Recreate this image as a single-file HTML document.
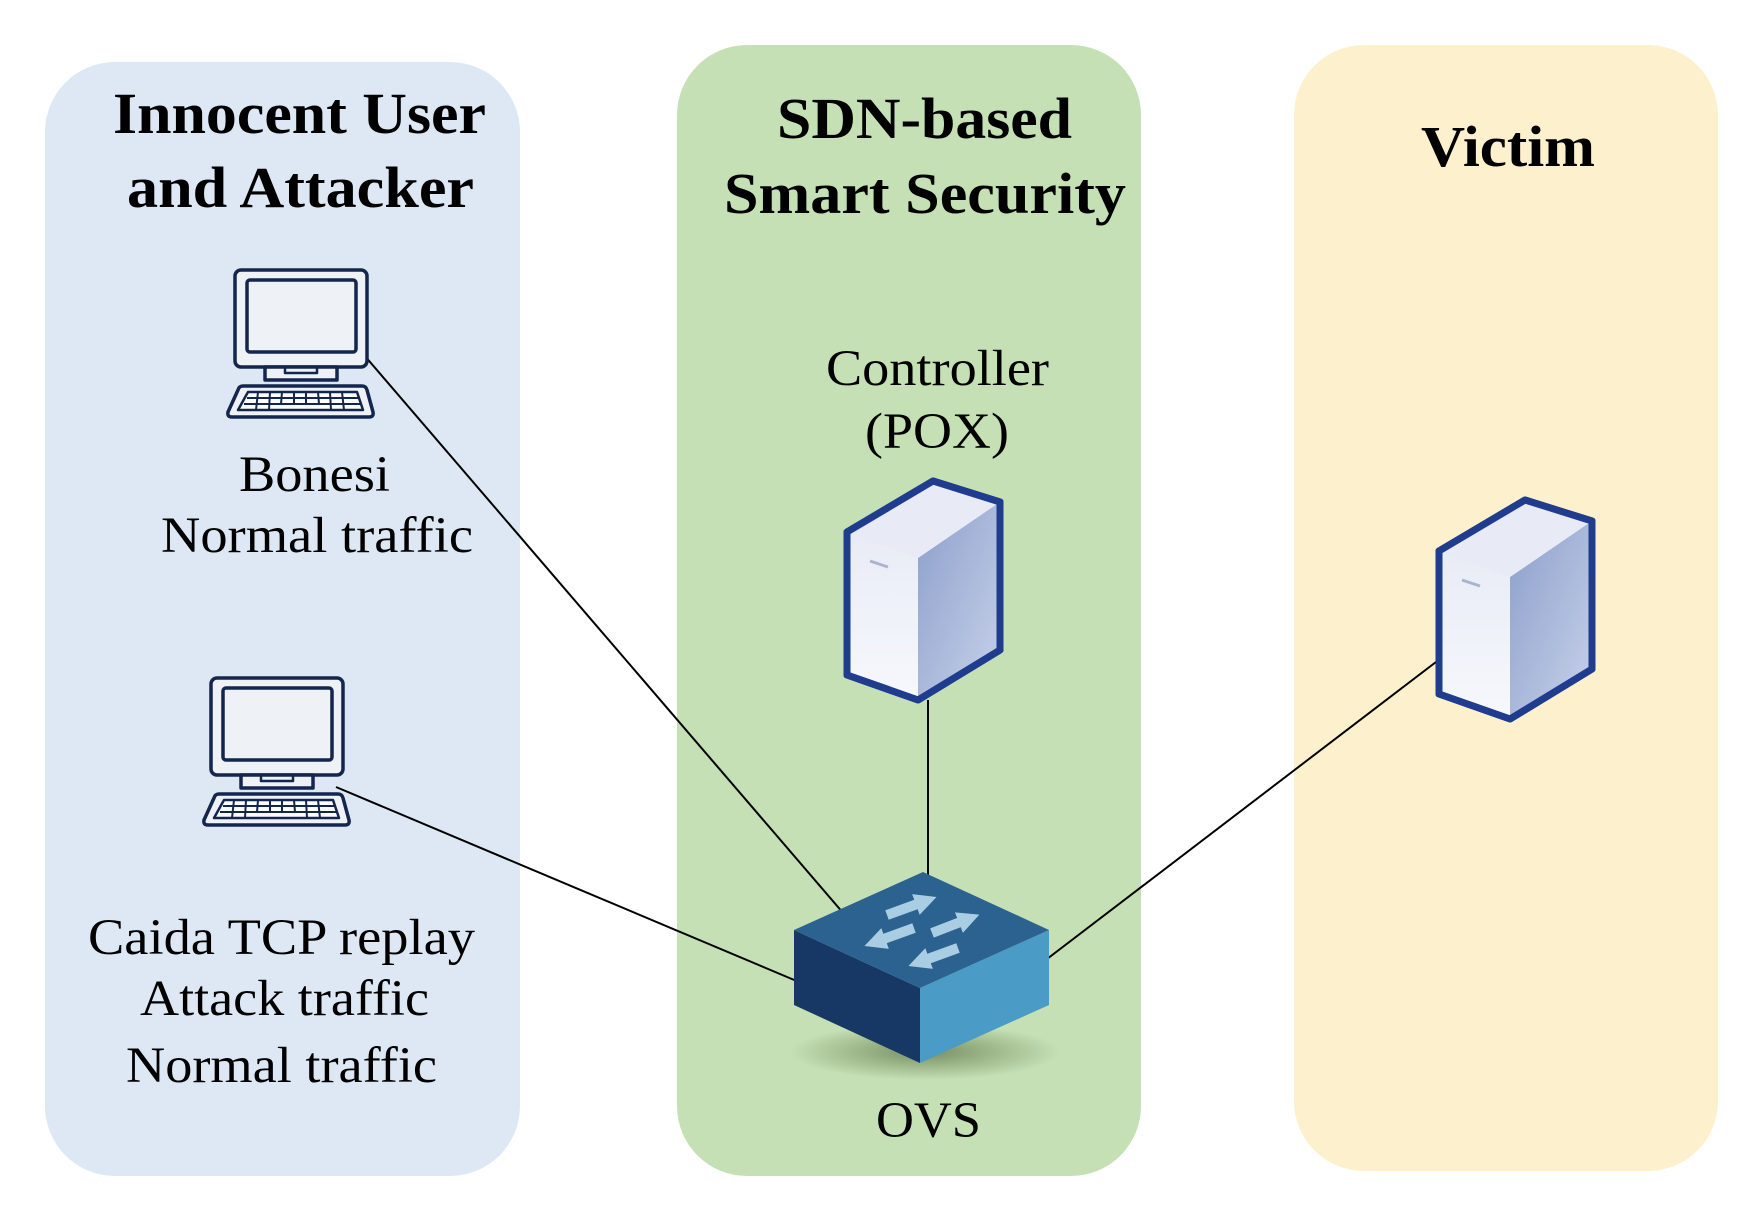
<!DOCTYPE html>
<html><head><meta charset="utf-8"><style>
html,body{margin:0;padding:0;background:#fff;}
svg{display:block;}
text{font-family:"Liberation Serif",serif;fill:#000;}
</style></head><body>
<svg width="1756" height="1212" viewBox="0 0 1756 1212" xmlns="http://www.w3.org/2000/svg">
<defs>
<linearGradient id="sf" x1="0" y1="0" x2="0" y2="1"><stop offset="0" stop-color="#e4e8f4"/><stop offset="1" stop-color="#f6f8fc"/></linearGradient>
<linearGradient id="sr" x1="0" y1="0" x2="1" y2="1"><stop offset="0" stop-color="#8c9fcb"/><stop offset="1" stop-color="#c8d2ea"/></linearGradient>
<radialGradient id="sh" cx="0.5" cy="0.5" r="0.5"><stop offset="0" stop-color="#556b3f" stop-opacity="0.7"/><stop offset="1" stop-color="#556b3f" stop-opacity="0"/></radialGradient>
<marker id="ah" viewBox="0 0 10 10" refX="2" refY="5" markerWidth="22" markerHeight="24" markerUnits="userSpaceOnUse" orient="auto"><path d="M0,0 L10,5 L0,10 Z" fill="#a9cde2"/></marker>
<g id="server">
<path d="M847,532 L933,481 L1000,502 L1000,650 L918,700 L847,675 Z" fill="url(#sf)" stroke="#1f3c8f" stroke-width="7" stroke-linejoin="round"/>
<path d="M918,558 L1000,502 L1000,650 L918,700 Z" fill="url(#sr)"/>
<path d="M849,534 L933,483 L998,503 L918,558 Z" fill="#e8ebf6"/>
<path d="M847,532 L933,481 L1000,502 L1000,650 L918,700 L847,675 Z" fill="none" stroke="#1f3c8f" stroke-width="7" stroke-linejoin="round"/>
<line x1="870" y1="561" x2="888" y2="567" stroke="#aab4cc" stroke-width="3"/>
</g>
<g id="pc" fill="#eef2f7" stroke="#14264d" stroke-width="3.5" stroke-linejoin="round">
<rect x="235" y="270" width="132" height="97" rx="6"/>
<rect x="247" y="280" width="109" height="72" rx="3"/>
<path d="M265,367 L337,367 L337,380 L265,380 Z"/>
<rect x="285" y="367" width="32" height="6" fill="none" stroke-width="2.5"/>
<path d="M243,386 L362,386 Q366,386 367,390 L373,412 Q374,417 369,417 L232,417 Q227,417 228,412 L238,390 Q239,386 243,386 Z"/>
<path d="M248,392 L357,392 L363,410 L238,410 Z" fill="#fff" stroke-width="2.5"/>
<path d="M247,398 L360,398 M244,404 L362,404 M258,392 L256,410 M270,392 L269,410 M282,392 L281,404 M294,392 L294,404 M306,392 L306,404 M318,392 L319,404 M330,392 L331,410 M342,392 L344,410" stroke-width="2" fill="none"/>
</g>
</defs>
<!-- panels -->
<rect x="45" y="62" width="475" height="1114" rx="70" fill="#dde8f4"/>
<rect x="677" y="45" width="464" height="1131" rx="70" fill="#c5e0b4"/>
<rect x="1294" y="45" width="424" height="1126" rx="70" fill="#fdf0cc"/>
<!-- titles -->
<g font-weight="bold" font-size="58">
<text x="113" y="133" textLength="373" lengthAdjust="spacingAndGlyphs">Innocent User</text>
<text x="127" y="207" textLength="347" lengthAdjust="spacingAndGlyphs">and Attacker</text>
<text x="777" y="138" textLength="295" lengthAdjust="spacingAndGlyphs">SDN-based</text>
<text x="724" y="213" textLength="402" lengthAdjust="spacingAndGlyphs">Smart Security</text>
<text x="1421" y="166" textLength="174" lengthAdjust="spacingAndGlyphs">Victim</text>
</g>
<g font-size="51">
<text x="826" y="385" textLength="223" lengthAdjust="spacingAndGlyphs">Controller</text>
<text x="865" y="448" textLength="144" lengthAdjust="spacingAndGlyphs">(POX)</text>
<text x="239" y="491" textLength="151" lengthAdjust="spacingAndGlyphs">Bonesi</text>
<text x="161" y="552" textLength="312" lengthAdjust="spacingAndGlyphs">Normal traffic</text>
<text x="88" y="954" textLength="387" lengthAdjust="spacingAndGlyphs">Caida TCP replay</text>
<text x="140" y="1015" textLength="289" lengthAdjust="spacingAndGlyphs">Attack traffic</text>
<text x="126" y="1082" textLength="311" lengthAdjust="spacingAndGlyphs">Normal traffic</text>
<text x="876" y="1137" textLength="105" lengthAdjust="spacingAndGlyphs">OVS</text>
</g>
<!-- lines -->
<g stroke="#000" stroke-width="2" fill="none">
<line x1="358" y1="348" x2="844" y2="914"/>
<line x1="336" y1="787" x2="799" y2="982"/>
<line x1="928" y1="700" x2="928" y2="876"/>
<line x1="1436" y1="662" x2="1047" y2="959"/>
</g>
<!-- computers -->
<use href="#pc"/>
<use href="#pc" transform="translate(-24,408)"/>
<!-- servers -->
<use href="#server"/>
<use href="#server" transform="translate(592,19)"/>
<!-- switch -->
<ellipse cx="925" cy="1052" rx="135" ry="28" fill="url(#sh)"/>
<path d="M794,930 L920,988 L920,1063 L794,1005 Z" fill="#173765"/>
<path d="M920,988 L1049,930 L1049,1005 L920,1063 Z" fill="#4a9cc6"/>
<path d="M923,872 L1049,930 L920,988 L794,930 Z" fill="#2c6290"/>
<g stroke="#a9cde2" stroke-width="10" marker-end="url(#ah)">
<line x1="887" y1="915" x2="920" y2="903"/>
<line x1="932" y1="933" x2="963" y2="921"/>
<line x1="914" y1="928" x2="881" y2="940"/>
<line x1="958" y1="948" x2="925" y2="960"/>
</g>
</svg>
</body></html>
